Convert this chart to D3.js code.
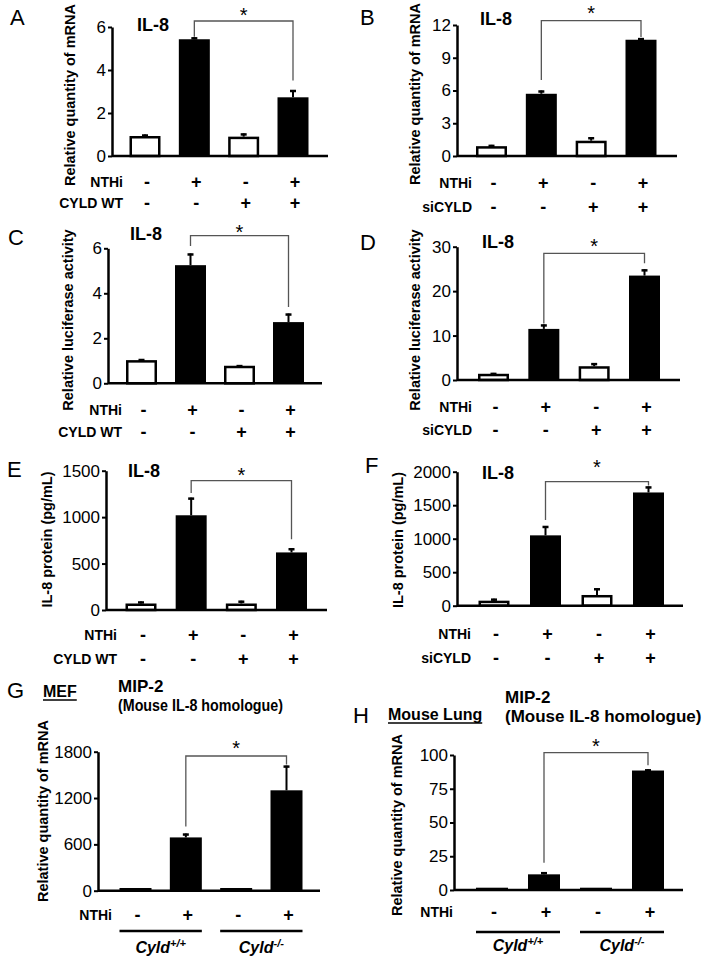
<!DOCTYPE html>
<html><head><meta charset="utf-8">
<script src="https://cdn.jsdelivr.net/npm/d3@7"></script>
<style>
body{margin:0;background:#fff}
svg{display:block}
text{font-family:Arial,"Liberation Sans",sans-serif;fill:#000}
</style>
</head><body>
<svg id="fig" width="707" height="962"></svg>
<script>
// ---------------- data ----------------
const nthi   = ["-","+","-","+"];
const cyldWT = ["-","-","+","+"];
const siCYLD = ["-","-","+","+"];

const aMeans = [0.93, 5.43, 0.90, 2.73];   const aErr = [0.07, 0.09, 0.15, 0.34];
const bMeans = [0.90, 5.70, 1.40, 10.65];  const bErr = [0.12, 0.30, 0.32, 0.15];
const cMeans = [1.03, 5.25, 0.78, 2.72];   const cErr = [0.05, 0.52, 0.03, 0.38];
const dMeans = [1.40, 11.5, 3.10, 23.5];   const dErr = [0.20, 1.00, 0.70, 1.40];
const eMeans = [70, 1020, 70, 620];        const eErr = [22, 190, 30, 45];
const fMeans = [75, 1050, 160, 1690];      const fErr = [30, 140, 100, 90];
const gMeans = [35, 690, 35, 1300];        const gErr = [0, 50, 0, 320];
const hMeans = [1.7, 11.6, 1.7, 88.5];     const hErr = [0, 1.6, 0, 0.9];

const aTicks = [0, 2, 4, 6];
const bTicks = [0, 3, 6, 9, 12];
const cTicks = [0, 2, 4, 6];
const dTicks = [0, 10, 20, 30];
const eTicks = [0, 500, 1000, 1500];
const fTicks = [0, 500, 1000, 1500, 2000];
const gTicks = [0, 600, 1200, 1800];
const hTicks = [0, 25, 50, 75, 100];

const panelLetters = ["A","B","C","D","E","F","G","H"];
const yLabMRNA = "Relative quantity of mRNA";
const yLabLuc = "Relative luciferase activity";
const yLabProt = "IL-8 protein (pg/mL)";
const titleIL8 = "IL-8";
const titleMIP = ["MIP-2", "(Mouse IL-8 homologue)"];
const cellTypes = ["MEF", "Mouse Lung"];
const genotypes = [["Cyld","+/+"],["Cyld","-/-"]];

// ---------------- layout ----------------
const panels = [
 {letter:"A", means:aMeans, err:aErr, ticks:aTicks, ylab:yLabMRNA, rows:[["NTHi",nthi],["CYLD WT",cyldWT]],
  L:{ax:112,xEnd:328,y0:156,y1:27,c0:145,c1:293,letter:[10,25],title:[137,31],ylab:[70,95],rowX:123,rowY:[182,203],br:{y:21,gl:0.5,gr:9.5,star:10}}},
 {letter:"B", means:bMeans, err:bErr, ticks:bTicks, ylab:yLabMRNA, rows:[["NTHi",nthi],["siCYLD",siCYLD]],
  L:{ax:457,xEnd:677,y0:156,y1:25,c0:491.5,c1:641,letter:[360,25],title:[480,25],ylab:[415,94],rowX:472,rowY:[183,207],br:{y:20.7,gl:10.5,gr:1,star:8}}},
 {letter:"C", means:cMeans, err:cErr, ticks:cTicks, ylab:yLabLuc, rows:[["NTHi",nthi],["CYLD WT",cyldWT]],
  L:{ax:108,xEnd:322,y0:383.3,y1:248.3,c0:141.5,c1:288.5,letter:[8,245],title:[130,240],ylab:[68,320],rowX:122,rowY:[410,432],br:{y:235.7,gl:7.5,gr:6.5,star:227}}},
 {letter:"D", means:dMeans, err:dErr, ticks:dTicks, ylab:yLabLuc, rows:[["NTHi",nthi],["siCYLD",siCYLD]],
  L:{ax:457,xEnd:680,y0:380,y1:246.7,c0:493.5,c1:644.5,letter:[360,250],title:[482,248],ylab:[415,320],rowX:472,rowY:[407,430],br:{y:253.3,gl:1,gr:6,star:241.7}}},
 {letter:"E", means:eMeans, err:eErr, ticks:eTicks, ylab:yLabProt, rows:[["NTHi",nthi],["CYLD WT",cyldWT]],
  L:{ax:106,xEnd:327,y0:610,y1:470.7,c0:141,c1:291.5,letter:[7,477],title:[128,477],ylab:[47,539.5],rowX:117,rowY:[635,659],br:{y:480.7,gl:4.6,gr:9,star:470}}},
 {letter:"F", means:fMeans, err:fErr, ticks:fTicks, ylab:yLabProt, rows:[["NTHi",nthi],["siCYLD",siCYLD]],
  L:{ax:457,xEnd:683,y0:605.7,y1:471.7,c0:494,c1:648.5,letter:[365,473],title:[482,479],ylab:[398,540],rowX:471,rowY:[634,658],br:{y:481.7,gl:6,gr:1,star:462.7}}},
 {letter:"G", means:gMeans, err:gErr, ticks:gTicks, ylab:yLabMRNA, rows:[["NTHi",nthi]], allBlack:true, cell:cellTypes[0],
  L:{ax:98,xEnd:320,y0:890.7,y1:751.7,c0:135.5,c1:286.5,bw:32,letter:[7,698],ylab:[43,811],rowX:112,rowY:[915],br:{y:756,gl:7,gr:1,star:743},
     cell:[43,697],mip:[118,692],mip2:[118,711,165],gLineY:931,gLabY:953}},
 {letter:"H", means:hMeans, err:hErr, ticks:hTicks, ylab:yLabMRNA, rows:[["NTHi",nthi]], allBlack:true, cell:cellTypes[1],
  L:{ax:454,xEnd:683,y0:890,y1:755,c0:492,c1:648,bw:32,letter:[353,723],ylab:[397,825],rowX:453,rowY:[912],br:{y:752.7,gl:9.5,gr:4,star:741.7},
     cell:[388,720],mip:[505,703],mip2:[505,722],gLineY:932,gLabY:951}}
];

const svg = d3.select("#fig");

function drawPanel(p){
  const L = p.L, bw = L.bw || 31;
  const g = svg.append("g");
  const idx = d3.range(p.means.length);
  const x = d3.scalePoint().domain(idx).range([L.c0, L.c1]);
  const y = d3.scaleLinear().domain([0, d3.max(p.ticks)]).range([L.y0, L.y1]);

  // bars
  const black = i => p.allBlack || nthi[i] === "+";
  g.selectAll("rect.bar").data(idx).join("rect")
    .attr("class","bar")
    .attr("x", i => black(i) ? x(i)-bw/2 : x(i)-bw/2+1.25)
    .attr("width", i => black(i) ? bw : bw-2.5)
    .attr("y", i => black(i) ? y(p.means[i]) : y(p.means[i])+1.25)
    .attr("height", i => black(i) ? L.y0 - y(p.means[i]) : Math.max(0, L.y0 - y(p.means[i]) - 1.25))
    .attr("fill", i => black(i) ? "#000" : "#fff")
    .attr("stroke", i => black(i) ? "none" : "#000")
    .attr("stroke-width", 2.5);

  // error bars (upper only)
  const eIdx = idx.filter(i => p.err[i] > 0);
  g.selectAll("line.ev").data(eIdx).join("line")
    .attr("x1", i => x(i)).attr("x2", i => x(i))
    .attr("y1", i => y(p.means[i])).attr("y2", i => y(p.means[i]+p.err[i]))
    .attr("stroke","#000").attr("stroke-width",2);
  g.selectAll("line.ec").data(eIdx).join("line")
    .attr("x1", i => x(i)-3).attr("x2", i => x(i)+3)
    .attr("y1", i => y(p.means[i]+p.err[i])+1).attr("y2", i => y(p.means[i]+p.err[i])+1)
    .attr("stroke","#000").attr("stroke-width",2.5);

  // y axis
  const axis = d3.axisLeft(y).tickValues(p.ticks).tickSize(4).tickSizeOuter(0).tickPadding(2).tickFormat(d3.format("d"));
  const ag = g.append("g").attr("transform",`translate(${L.ax},0)`).call(axis)
    .attr("font-family","Arial, Liberation Sans, sans-serif").attr("font-size",17);
  ag.select(".domain").attr("stroke","#000").attr("stroke-width",2.5);
  ag.selectAll(".tick line").attr("stroke","#000").attr("stroke-width",2);
  ag.selectAll(".tick text").attr("fill","#000");

  // x axis baseline
  g.append("line").attr("x1",L.ax).attr("x2",L.xEnd).attr("y1",L.y0).attr("y2",L.y0)
    .attr("stroke","#000").attr("stroke-width",2.5);

  // y label
  g.append("text").attr("transform",`translate(${L.ylab[0]},${L.ylab[1]}) rotate(-90)`)
    .attr("text-anchor","middle").attr("dominant-baseline","central")
    .attr("font-size",14.5).attr("font-weight","bold").text(p.ylab);

  // panel letter
  g.append("text").attr("x",L.letter[0]).attr("y",L.letter[1]).attr("font-size",22).text(p.letter);

  // title
  if (L.title){
    g.append("text").attr("x",L.title[0]).attr("y",L.title[1]).attr("font-size",18).attr("font-weight","bold").text(titleIL8);
  }
  if (L.mip){
    g.append("text").attr("x",L.mip[0]).attr("y",L.mip[1]).attr("font-size",17).attr("font-weight","bold").text(titleMIP[0]);
    const t2 = g.append("text").attr("x",L.mip2[0]).attr("y",L.mip2[1]).attr("font-size",17).attr("font-weight","bold").text(titleMIP[1]);
    if (L.mip2[2]) t2.attr("textLength",L.mip2[2]).attr("lengthAdjust","spacingAndGlyphs");
    const ct = g.append("text").attr("x",L.cell[0]).attr("y",L.cell[1]).attr("font-size",16).attr("font-weight","bold").text(p.cell);
    const w = ct.node().getComputedTextLength();
    g.append("line").attr("x1",L.cell[0]).attr("x2",L.cell[0]+w).attr("y1",L.cell[1]+3).attr("y2",L.cell[1]+3)
      .attr("stroke","#000").attr("stroke-width",1.5);
  }

  // bracket + star
  const b = L.br;
  const xl = x(1), xr = x(3);
  const ylEnd = y(p.means[1]+p.err[1]) - b.gl;
  const yrEnd = y(p.means[3]+p.err[3]) - b.gr;
  g.append("path").attr("d",`M${xl},${ylEnd}V${b.y}H${xr}V${yrEnd}`)
    .attr("fill","none").attr("stroke","#555").attr("stroke-width",1.3);
  g.append("text").attr("x",(xl+xr)/2).attr("y",b.star+11.5).attr("text-anchor","middle").attr("font-size",20).text("*");

  // condition rows
  p.rows.forEach((r, ri) => {
    const yy = L.rowY[ri];
    g.append("text").attr("x",L.rowX).attr("y",yy).attr("dy","0.36em").attr("text-anchor","end")
      .attr("font-size",14).attr("font-weight","bold").text(r[0]);
    g.selectAll(null).data(r[1]).join("text")
      .attr("x",(d,i) => x(i)+2).attr("y",yy).attr("dy","0.36em").attr("text-anchor","middle")
      .attr("font-size",18).attr("font-weight","bold").text(d => d);
  });

  // genotype groups
  if (L.gLineY){
    genotypes.forEach((gt, k) => {
      const i0 = 2*k, i1 = 2*k+1;
      g.append("line").attr("x1",x(i0)-bw/2).attr("x2",x(i1)+bw/2).attr("y1",L.gLineY).attr("y2",L.gLineY)
        .attr("stroke","#000").attr("stroke-width",2.5);
      const t = g.append("text").attr("x",(x(i0)+x(i1))/2).attr("y",L.gLabY).attr("text-anchor","middle")
        .attr("font-weight","bold").attr("font-style","italic").attr("font-size",16);
      t.append("tspan").text(gt[0]);
      t.append("tspan").attr("font-size",11).attr("dy",-6).text(gt[1]);
    });
  }
}

panels.forEach(drawPanel);
</script>
</body></html>
